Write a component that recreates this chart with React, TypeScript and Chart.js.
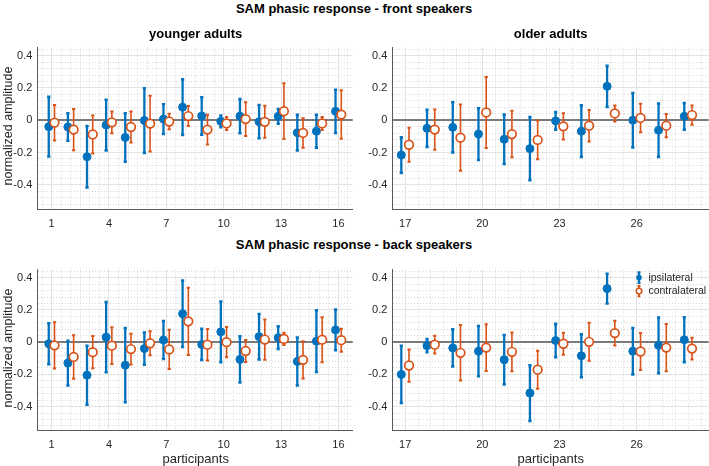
import React, { useEffect, useRef } from "react";
import { Chart, registerables } from "chart.js";

Chart.register(...registerables);

const FONT = "'Liberation Sans', Arial, Helvetica, sans-serif";
const BLUE = "#0072BD";
const ORANGE = "#D95319";
const TEXT = "#262626";
const AXIS = "#5a5a5a";

// ---------- data ----------
const seriesNames = ["ipsilateral", "contralateral"];
const youngerParticipants = [1, 2, 3, 4, 5, 6, 7, 8, 9, 10, 11, 12, 13, 14, 15, 16];
const olderParticipants = [17, 18, 19, 20, 21, 22, 23, 24, 25, 26, 27, 28];
const youngerXTicks = [1, 4, 7, 10, 13, 16];
const olderXTicks = [17, 20, 23, 26];
const yTickLabels = [-0.4, -0.2, 0, 0.2, 0.4];

// front speakers, younger adults
const frontYoungIpsiMean = [-0.04, -0.042, -0.226, -0.03, -0.107, -0.002, 0.007, 0.081, 0.026, -0.007, 0.025, -0.009, 0.024, -0.077, -0.068, 0.055];
const frontYoungIpsiErr = [0.185, 0.085, 0.19, 0.157, 0.15, 0.2, 0.092, 0.172, 0.116, 0.036, 0.106, 0.103, 0.046, 0.11, 0.102, 0.134];
const frontYoungContraMean = [-0.015, -0.058, -0.088, -0.013, -0.042, -0.021, -0.008, 0.026, -0.058, -0.02, 0.007, -0.01, 0.056, -0.079, -0.02, 0.035];
const frontYoungContraErr = [0.11, 0.128, 0.118, 0.067, 0.096, 0.172, 0.048, 0.062, 0.092, 0.04, 0.105, 0.099, 0.173, 0.092, 0.04, 0.15];

// front speakers, older adults
const frontOldIpsiMean = [-0.216, -0.05, -0.044, -0.086, -0.118, -0.176, -0.004, -0.068, 0.21, 0.0, -0.062, 0.024];
const frontOldIpsiErr = [0.11, 0.115, 0.155, 0.16, 0.153, 0.195, 0.054, 0.16, 0.127, 0.168, 0.165, 0.082];
const frontOldContraMean = [-0.152, -0.058, -0.108, 0.048, -0.086, -0.122, -0.038, -0.034, 0.042, 0.014, -0.034, 0.032];
const frontOldContraErr = [0.105, 0.125, 0.205, 0.22, 0.144, 0.12, 0.081, 0.098, 0.05, 0.088, 0.072, 0.06];

// back speakers, younger adults
const backYoungIpsiMean = [-0.01, -0.13, -0.205, 0.031, -0.143, -0.04, 0.013, 0.176, -0.014, 0.064, -0.107, 0.034, 0.028, -0.12, 0.006, 0.076];
const backYoungIpsiErr = [0.127, 0.139, 0.183, 0.218, 0.23, 0.1, 0.118, 0.206, 0.096, 0.188, 0.143, 0.141, 0.07, 0.149, 0.191, 0.126];
const backYoungContraMean = [-0.02, -0.092, -0.062, -0.022, -0.043, -0.007, -0.045, 0.129, -0.016, 0.0, -0.055, 0.016, 0.02, -0.11, 0.015, 0.012];
const backYoungContraErr = [0.144, 0.135, 0.1, 0.114, 0.095, 0.075, 0.122, 0.209, 0.098, 0.094, 0.068, 0.125, 0.038, 0.115, 0.139, 0.071];

// back speakers, older adults
const backOldIpsiMean = [-0.2, -0.022, -0.036, -0.056, -0.109, -0.316, 0.01, -0.085, 0.332, -0.056, -0.02, 0.015];
const backOldIpsiErr = [0.178, 0.041, 0.115, 0.156, 0.153, 0.173, 0.103, 0.133, 0.092, 0.144, 0.173, 0.139];
const backOldContraMean = [-0.145, -0.016, -0.066, -0.034, -0.06, -0.171, -0.01, 0.002, 0.056, -0.058, -0.034, -0.04];
const backOldContraErr = [0.1, 0.055, 0.172, 0.145, 0.12, 0.118, 0.068, 0.118, 0.077, 0.115, 0.147, 0.068];

// ---------- helpers ----------
const Y_MIN = -0.55;
const Y_MAX = 0.45;
const X_SHIFT = 0.15;

function errorBarPoints(ids: number[], mean: number[], err: number[], dx: number) {
  const pts: any[] = [];
  ids.forEach((id, i) => {
    pts.push({ x: id + dx, y: mean[i] - err[i] });
    pts.push({ x: id + dx, y: mean[i] + err[i] });
    pts.push({ x: id + dx, y: null });
  });
  return pts;
}
function markerPoints(ids: number[], mean: number[], dx: number) {
  return ids.map((id, i) => ({ x: id + dx, y: mean[i] }));
}

const legendPlugin = {
  id: "errLegend",
  afterDatasetsDraw(chart: any, _args: any, opts: any) {
    if (!opts || !opts.show) return;
    const { ctx, chartArea } = chart;
    const rows = [
      { label: seriesNames[0], color: BLUE, filled: true, lw: 2.2, dy: 8 },
      { label: seriesNames[1], color: ORANGE, filled: false, lw: 1.8, dy: 21.5 },
    ];
    ctx.save();
    rows.forEach((r) => {
      const x = chartArea.right - 69.7;
      const y = chartArea.top + r.dy;
      ctx.strokeStyle = r.color;
      ctx.fillStyle = r.color;
      ctx.lineWidth = r.lw;
      ctx.beginPath();
      ctx.moveTo(x, y - 5.3);
      ctx.lineTo(x, y + 5.3);
      ctx.moveTo(x - 1.5, y - 5.3);
      ctx.lineTo(x + 1.5, y - 5.3);
      ctx.moveTo(x - 1.5, y + 5.3);
      ctx.lineTo(x + 1.5, y + 5.3);
      ctx.stroke();
      ctx.beginPath();
      ctx.arc(x, y, 2.8, 0, Math.PI * 2);
      if (r.filled) ctx.fill();
      else {
        ctx.fillStyle = "#fff";
        ctx.fill();
        ctx.lineWidth = 1.5;
        ctx.stroke();
      }
      ctx.fillStyle = TEXT;
      ctx.font = `10.5px ${FONT}`;
      ctx.textBaseline = "middle";
      ctx.textAlign = "left";
      ctx.fillText(r.label, chartArea.right - 60.3, y + 0.5);
    });
    ctx.restore();
  },
};

type PanelProps = {
  cx: number; cy: number; cw: number; ch: number;
  ax0: number; ay0: number; ax1: number; ay1: number;
  xMin: number; xMax: number; xMajor: number[];
  ids: number[];
  ipsiMean: number[]; ipsiErr: number[];
  contraMean: number[]; contraErr: number[];
  legend?: boolean;
};

function Panel(p: PanelProps) {
  const ref = useRef<HTMLCanvasElement>(null);
  useEffect(() => {
    if (!ref.current) return;
    const yAxisWidth = p.ax0 - p.cx;
    const xAxisHeight = p.cy + p.ch - p.ay1;
    const padTop = p.ay0 - p.cy;
    const padRight = p.cx + p.cw - p.ax1;

    const xGrid: number[] = [];
    for (let k = Math.ceil(p.xMin * 2); k <= Math.floor(p.xMax * 2); k++) xGrid.push(k / 2);
    const yGrid: number[] = [];
    for (let k = Math.ceil(Y_MIN * 25); k <= Math.floor(Y_MAX * 25); k++) yGrid.push(Math.round(k * 4) / 100);

    const isMajorX = (v: number) => p.xMajor.some((t) => Math.abs(t - v) < 1e-6);
    const isMajorY = (v: number) => yTickLabels.some((t) => Math.abs(t - v) < 1e-6);

    const chart = new Chart(ref.current, {
      type: "scatter",
      data: {
        datasets: [
          {
            label: seriesNames[1] + " mean",
            data: markerPoints(p.ids, p.contraMean, X_SHIFT),
            pointStyle: "circle",
            pointRadius: 4.3,
            pointBackgroundColor: "#ffffff",
            pointBorderColor: ORANGE,
            pointBorderWidth: 1.7,
            showLine: false,
          } as any,
          {
            label: seriesNames[1] + " error",
            data: errorBarPoints(p.ids, p.contraMean, p.contraErr, X_SHIFT),
            showLine: true,
            spanGaps: false,
            borderColor: ORANGE,
            borderWidth: 1.6,
            pointStyle: "line",
            pointRadius: 1.6,
            pointBorderColor: ORANGE,
            pointBorderWidth: 2,
          } as any,
          {
            label: seriesNames[0] + " mean",
            data: markerPoints(p.ids, p.ipsiMean, -X_SHIFT),
            pointStyle: "circle",
            pointRadius: 4,
            pointBackgroundColor: BLUE,
            pointBorderColor: BLUE,
            pointBorderWidth: 1,
            showLine: false,
          } as any,
          {
            label: seriesNames[0] + " error",
            data: errorBarPoints(p.ids, p.ipsiMean, p.ipsiErr, -X_SHIFT),
            showLine: true,
            spanGaps: false,
            borderColor: BLUE,
            borderWidth: 2.3,
            pointStyle: "line",
            pointRadius: 1.6,
            pointBorderColor: BLUE,
            pointBorderWidth: 2.6,
          } as any,
        ],
      },
      options: {
        animation: false,
        responsive: false,
        maintainAspectRatio: false,
        events: [],
        layout: { autoPadding: false, padding: { left: 0, top: padTop, right: padRight, bottom: 0 } },
        plugins: {
          legend: { display: false },
          tooltip: { enabled: false },
          title: { display: false },
          errLegend: { show: !!p.legend },
        } as any,
        scales: {
          x: {
            type: "linear",
            min: p.xMin,
            max: p.xMax,
            afterBuildTicks: (s: any) => {
              s.ticks = xGrid.map((v) => ({ value: v }));
            },
            afterFit: (s: any) => {
              s.height = xAxisHeight;
            },
            ticks: {
              autoSkip: false,
              maxRotation: 0,
              minRotation: 0,
              padding: 8,
              color: TEXT,
              font: { size: 11, family: FONT },
              callback: (v: any) => (isMajorX(Number(v)) ? String(Math.round(Number(v))) : ""),
            },
            grid: {
              drawTicks: false,
              lineWidth: 1,
              color: (c: any) => {
                const v = c.tick ? c.tick.value : NaN;
                return isMajorX(v) ? "#e3e3e3" : "#d6d6d6";
              },
            },
            border: {
              display: true,
              color: AXIS,
              width: 1,
              dash: (c: any) => (c.tick && !isMajorX(c.tick.value) ? [1, 2] : []),
            },
          },
          y: {
            type: "linear",
            min: Y_MIN,
            max: Y_MAX,
            afterBuildTicks: (s: any) => {
              s.ticks = yGrid.map((v) => ({ value: v }));
            },
            afterFit: (s: any) => {
              s.width = yAxisWidth;
            },
            ticks: {
              autoSkip: false,
              padding: 5,
              color: TEXT,
              font: { size: 11, family: FONT },
              callback: (v: any) => {
                const n = Number(v);
                if (!isMajorY(n)) return "";
                return Math.abs(n) < 1e-9 ? "0" : n.toFixed(1);
              },
            },
            grid: {
              drawTicks: false,
              lineWidth: (c: any) => (c.tick && Math.abs(c.tick.value) < 1e-9 ? 2 : 1),
              color: (c: any) => {
                const v = c.tick ? c.tick.value : NaN;
                if (Math.abs(v) < 1e-9) return "#7a7a7a";
                return isMajorY(v) ? "#e3e3e3" : "#d6d6d6";
              },
            },
            border: {
              display: true,
              color: AXIS,
              width: 1,
              dash: (c: any) => (c.tick && !isMajorY(c.tick.value) ? [1, 2] : []),
            },
          },
        },
      } as any,
      plugins: [legendPlugin],
    });
    return () => chart.destroy();
  }, []);
  return (
    <canvas
      ref={ref}
      width={p.cw}
      height={p.ch}
      style={{ position: "absolute", left: p.cx, top: p.cy, width: p.cw, height: p.ch }}
    />
  );
}

function Label(props: { text: string; x: number; y: number; size: number; bold?: boolean; rotate?: boolean; color?: string }) {
  const { text, x, y, size, bold, rotate, color } = props;
  return (
    <div
      style={{
        position: "absolute",
        left: x,
        top: y,
        transform: `translate(-50%, -50%)${rotate ? " rotate(-90deg)" : ""}`,
        whiteSpace: "nowrap",
        fontFamily: FONT,
        fontSize: size,
        lineHeight: `${size}px`,
        fontWeight: bold ? 700 : 400,
        color: color || "#000",
      }}
    >
      {text}
    </div>
  );
}

export default function App() {
  const LEFT = { cx: 0, cw: 356, ax0: 37.3, ax1: 354, xMin: 0.25, xMax: 16.75, xMajor: youngerXTicks, ids: youngerParticipants };
  const RIGHT = { cx: 356, cw: 353, ax0: 392.3, ax1: 709, xMin: 16.5, xMax: 28.8, xMajor: olderXTicks, ids: olderParticipants };
  const TOP = { cy: 36, ch: 200, ay0: 42.3, ay1: 209 };
  const BOTTOM = { cy: 258, ch: 208, ay0: 264.5, ay1: 430.8 };
  return (
    <div style={{ position: "fixed", left: 0, top: 0, width: 709, height: 466, background: "#fff", overflow: "hidden" }}>
      <Panel {...LEFT} {...TOP} ipsiMean={frontYoungIpsiMean} ipsiErr={frontYoungIpsiErr} contraMean={frontYoungContraMean} contraErr={frontYoungContraErr} />
      <Panel {...RIGHT} {...TOP} ipsiMean={frontOldIpsiMean} ipsiErr={frontOldIpsiErr} contraMean={frontOldContraMean} contraErr={frontOldContraErr} />
      <Panel {...LEFT} {...BOTTOM} ipsiMean={backYoungIpsiMean} ipsiErr={backYoungIpsiErr} contraMean={backYoungContraMean} contraErr={backYoungContraErr} />
      <Panel {...RIGHT} {...BOTTOM} ipsiMean={backOldIpsiMean} ipsiErr={backOldIpsiErr} contraMean={backOldContraMean} contraErr={backOldContraErr} legend />

      <Label text="SAM phasic response - front speakers" x={354} y={8} size={13} bold />
      <Label text="younger adults" x={195.7} y={33} size={13} bold />
      <Label text="older adults" x={550.7} y={33} size={13} bold />
      <Label text="SAM phasic response - back speakers" x={354} y={244} size={13} bold />
      <Label text="normalized amplitude" x={8} y={125.7} size={12.5} rotate color={TEXT} />
      <Label text="normalized amplitude" x={8} y={347.6} size={12.5} rotate color={TEXT} />
      <Label text="participants" x={195.7} y={458} size={13} color={TEXT} />
      <Label text="participants" x={550.7} y={458} size={13} color={TEXT} />
    </div>
  );
}
